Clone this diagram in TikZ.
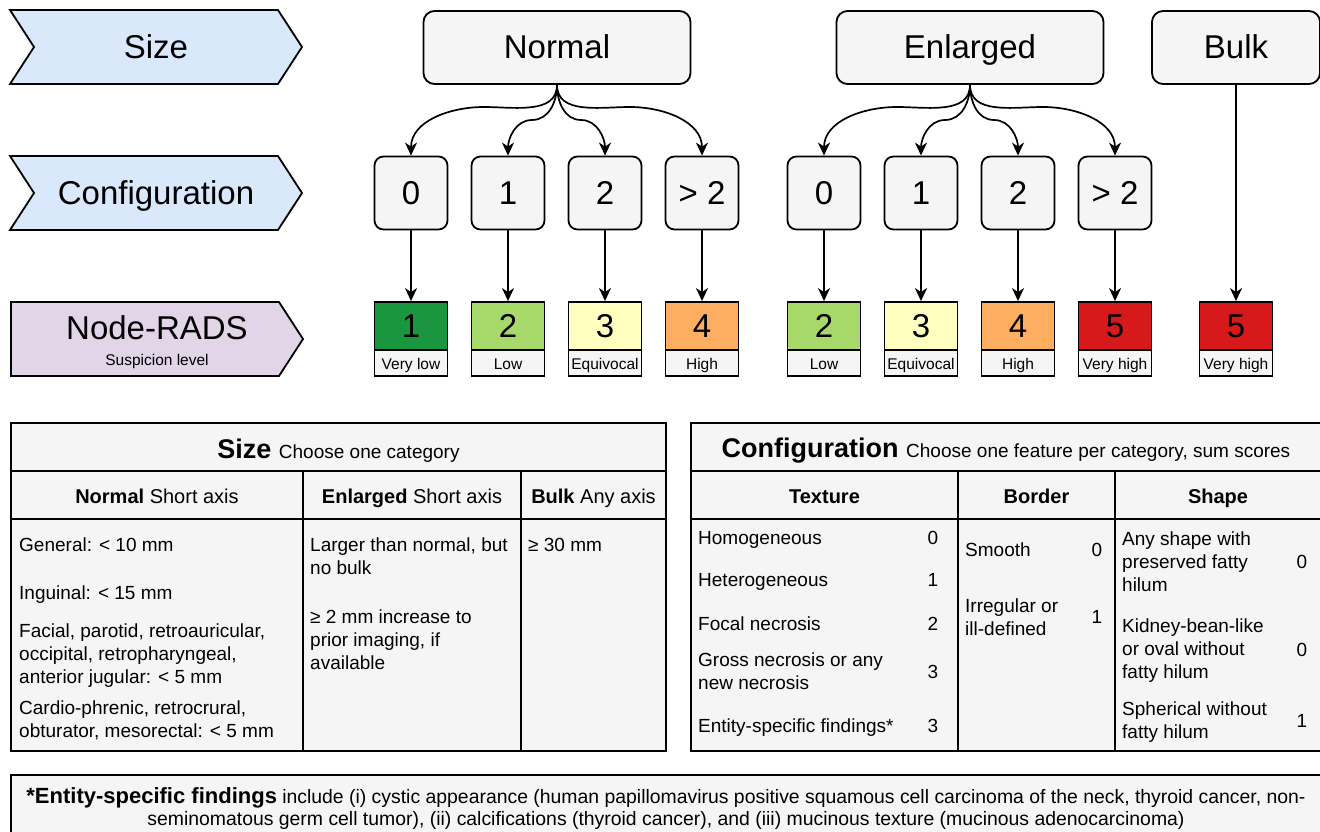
\documentclass[tikz,border=0pt]{standalone}
\usepackage{fontspec}
\setmainfont{Liberation Sans}
\usepackage{tikz}
\usetikzlibrary{shapes.symbols}
\usetikzlibrary{arrows.meta}
\definecolor{azul}{HTML}{DAE8FC}
\definecolor{lila}{HTML}{E1D5E7}
\definecolor{gris}{HTML}{F5F5F5}
\definecolor{verdeo}{HTML}{1A9641}
\definecolor{verdec}{HTML}{A6D96A}
\definecolor{amarillo}{HTML}{FFFFBF}
\definecolor{naranja}{HTML}{FDAE61}
\definecolor{rojo}{HTML}{D7191C}
\newcommand{\tam}[2]{\fontsize{#1}{#2}\selectfont}
\tikzstyle{flechon}=[draw, line width=1.8pt, signal, signal to=east, signal pointer angle=114, minimum width=292pt, minimum height=74pt, inner sep=0pt, text height=23pt, text depth=0pt, font=\tam{33}{40}]
\tikzstyle{caja}=[draw, line width=1.8pt, fill=gris, rounded corners=11pt, minimum height=73pt, inner sep=0pt, text height=23pt, text depth=0pt, font=\tam{33}{40}]
\tikzstyle{conf}=[caja, rounded corners=9pt, minimum width=73pt]
\tikzstyle{nivel}=[draw, line width=1.8pt, minimum width=73pt, minimum height=48pt, inner sep=0pt, text height=23pt, text depth=0pt, font=\tam{33}{40}]
\tikzstyle{etiqueta}=[draw, line width=1.8pt, fill=gris, minimum width=73pt, minimum height=26pt, inner sep=0pt, text height=12pt, text depth=0pt, font=\tam{15.5}{18}]
\tikzstyle{flecha}=[line width=1.7pt, -{Stealth[length=13pt,width=12pt,inset=4pt]}]
\tikzstyle{tabla}=[draw, line width=2pt, fill=gris]
\tikzstyle{linea}=[line width=2pt]
\tikzstyle{texto}=[anchor=base west, align=left, inner sep=0pt, font=\tam{19}{23}]
\tikzstyle{punto}=[anchor=base, inner sep=0pt, font=\tam{19}{23}]
\tikzstyle{cabeza}=[anchor=base, inner sep=0pt, font=\tam{20}{24}]

\begin{document}
\begin{tikzpicture}[x=1pt,y=-1pt]
    \useasboundingbox (0,0) rectangle (1320,832);
    % Filas
    \node[flechon, fill=azul, signal from=west] (fsize) at (156,47) {Size};
    \node[flechon, fill=azul, signal from=west] (fconf) at (156,193) {Configuration};
    \node[flechon, fill=lila] (frads) at (145,339) {};
    \node[anchor=base, inner sep=0pt, font=\tam{33}{40}] (trads) at (157,339) {Node-RADS};
    \node[anchor=base, inner sep=0pt, font=\tam{15.5}{18}] (tsusp) at (157,365) {Suspicion level};
    % Tamano
    \node[caja, minimum width=267pt] (nor) at (557,47.5) {Normal};
    \node[caja, minimum width=267pt] (enl) at (970,47.5) {Enlarged};
    \node[caja, minimum width=168pt] (blk) at (1236,47.5) {Bulk};
    % Configuracion
    \node[conf] (a0) at (411,193) {0};
    \node[conf] (a1) at (508,193) {1};
    \node[conf] (a2) at (605,193) {2};
    \node[conf] (a3) at (702,193) {> 2};
    \node[conf] (b0) at (824,193) {0};
    \node[conf] (b1) at (921,193) {1};
    \node[conf] (b2) at (1018,193) {2};
    \node[conf] (b3) at (1115,193) {> 2};
    % Niveles
    \node[nivel, fill=verdeo] (r1) at (411,326) {1};
    \node[etiqueta] (l1) at (411,363) {Very low};
    \node[nivel, fill=verdec] (r2) at (508,326) {2};
    \node[etiqueta] (l2) at (508,363) {Low};
    \node[nivel, fill=amarillo] (r3) at (605,326) {3};
    \node[etiqueta] (l3) at (605,363) {Equivocal};
    \node[nivel, fill=naranja] (r4) at (702,326) {4};
    \node[etiqueta] (l4) at (702,363) {High};
    \node[nivel, fill=verdec] (s2) at (824,326) {2};
    \node[etiqueta] (m2) at (824,363) {Low};
    \node[nivel, fill=amarillo] (s3) at (921,326) {3};
    \node[etiqueta] (m3) at (921,363) {Equivocal};
    \node[nivel, fill=naranja] (s4) at (1018,326) {4};
    \node[etiqueta] (m4) at (1018,363) {High};
    \node[nivel, fill=rojo] (s5) at (1115,326) {5};
    \node[etiqueta] (m5) at (1115,363) {Very high};
    \node[nivel, fill=rojo] (t5) at (1236,326) {5};
    \node[etiqueta] (n5) at (1236,363) {Very high};
    % Flechas
    \draw[flecha] (nor.south) to[out=-90,in=0] (484,107) to[out=180,in=90] (a0.north);
    \draw[flecha] (nor.south) to[out=-90,in=0] (532,120) to[out=180,in=90] (a1.north);
    \draw[flecha] (nor.south) to[out=-90,in=180] (581,120) to[out=0,in=90] (a2.north);
    \draw[flecha] (nor.south) to[out=-90,in=180] (630,107) to[out=0,in=90] (a3.north);
    \draw[flecha] (enl.south) to[out=-90,in=0] (897,107) to[out=180,in=90] (b0.north);
    \draw[flecha] (enl.south) to[out=-90,in=0] (945,120) to[out=180,in=90] (b1.north);
    \draw[flecha] (enl.south) to[out=-90,in=180] (994,120) to[out=0,in=90] (b2.north);
    \draw[flecha] (enl.south) to[out=-90,in=180] (1043,107) to[out=0,in=90] (b3.north);
    \draw[flecha] (a0.south) -- (r1.north);
    \draw[flecha] (a1.south) -- (r2.north);
    \draw[flecha] (a2.south) -- (r3.north);
    \draw[flecha] (a3.south) -- (r4.north);
    \draw[flecha] (b0.south) -- (s2.north);
    \draw[flecha] (b1.south) -- (s3.north);
    \draw[flecha] (b2.south) -- (s4.north);
    \draw[flecha] (b3.south) -- (s5.north);
    \draw[flecha] (blk.south) -- (t5.north);
    % Tabla de tamano
    \draw[tabla] (11,423) rectangle (666,751);
    \draw[linea] (11,471) -- (666,471);
    \draw[linea] (11,519) -- (666,519);
    \draw[linea] (303,471) -- (303,751);
    \draw[linea] (521,471) -- (521,751);
    \node[anchor=base, inner sep=0pt] (tsz) at (338.5,458) {\tam{27}{30}\bfseries Size \tam{19}{23}\mdseries Choose one category};
    \node[cabeza] (hnor) at (157,503) {\bfseries Normal \mdseries Short axis};
    \node[cabeza] (henl) at (412,503) {\bfseries Enlarged \mdseries Short axis};
    \node[cabeza] (hblk) at (593.5,503) {\bfseries Bulk \mdseries Any axis};
    \node[texto] (g1) at (19,551) {General: < 10 mm};
    \node[texto] (g2) at (19,599) {Inguinal: < 15 mm};
    \node[texto] (g3) at (19,683) {Facial, parotid, retroauricular,\\occipital, retropharyngeal,\\anterior jugular: < 5 mm};
    \node[texto] (g4) at (19,737) {Cardio-phrenic, retrocrural,\\obturator, mesorectal: < 5 mm};
    \node[texto] (e1) at (310,574) {Larger than normal, but\\no bulk};
    \node[texto] (e2) at (310,669) {≥ 2 mm increase to\\prior imaging, if\\available};
    \node[texto] (k1) at (528,551) {≥ 30 mm};
    % Tabla de configuracion
    \draw[tabla] (691,423) rectangle (1321,751);
    \draw[linea] (691,471) -- (1321,471);
    \draw[linea] (691,519) -- (1321,519);
    \draw[linea] (958,471) -- (958,751);
    \draw[linea] (1115,471) -- (1115,751);
    \node[anchor=base, inner sep=0pt] (tcf) at (1006,457) {\tam{27}{30}\bfseries Configuration \tam{19}{23}\mdseries Choose one feature per category, sum scores};
    \node[cabeza] (htex) at (824.5,503) {\bfseries Texture};
    \node[cabeza] (hbor) at (1036.5,503) {\bfseries Border};
    \node[cabeza] (hsha) at (1218,503) {\bfseries Shape};
    \node[texto] (x1) at (698,544) {Homogeneous};
    \node[texto] (x2) at (698,586) {Heterogeneous};
    \node[texto] (x3) at (698,630) {Focal necrosis};
    \node[texto] (x4) at (698,689) {Gross necrosis or any\\new necrosis};
    \node[texto] (x5) at (698,732) {Entity-specific findings*};
    \node[punto] (px1) at (933,544) {0};
    \node[punto] (px2) at (933,586) {1};
    \node[punto] (px3) at (933,630) {2};
    \node[punto] (px4) at (933,678) {3};
    \node[punto] (px5) at (933,732) {3};
    \node[texto] (y1) at (965,556) {Smooth};
    \node[texto] (y2) at (965,635) {Irregular or\\ill-defined};
    \node[punto] (py1) at (1097,556) {0};
    \node[punto] (py2) at (1097,623) {1};
    \node[texto] (z1) at (1122,591) {Any shape with\\preserved fatty\\hilum};
    \node[texto] (z2) at (1122,678) {Kidney-bean-like\\or oval without\\fatty hilum};
    \node[texto] (z3) at (1122,738) {Spherical without\\fatty hilum};
    \node[punto] (pz1) at (1302,568) {0};
    \node[punto] (pz2) at (1302,656) {0};
    \node[punto] (pz3) at (1302,727) {1};
    % Nota
    \draw[tabla] (11,775) rectangle (1322,850);
    \node[punto] (nota1) at (666,803) {{\tam{22}{25}\bfseries *Entity-specific findings} \tam{19.4}{23}include (i) cystic appearance (human papillomavirus positive squamous cell carcinoma of the neck, thyroid cancer, non-};
    \node[punto, font=\tam{19.4}{23}] (nota2) at (666,825) {seminomatous germ cell tumor), (ii) calcifications (thyroid cancer), and (iii) mucinous texture (mucinous adenocarcinoma)};
\end{tikzpicture}
\end{document}
